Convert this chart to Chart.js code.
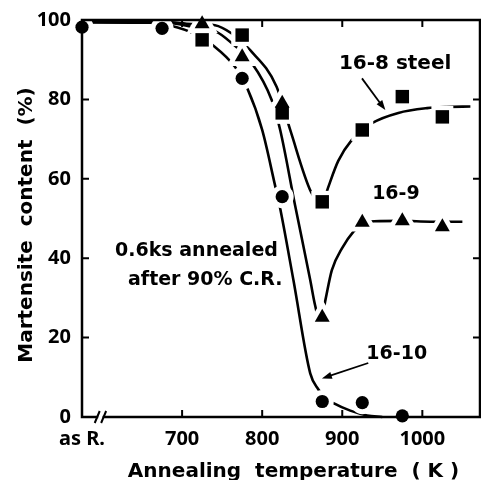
<!DOCTYPE html>
<html>
<head>
<meta charset="utf-8">
<script src="https://cdn.jsdelivr.net/npm/chart.js@4.4.0/dist/chart.umd.min.js"></script>
<style>
html,body{margin:0;padding:0;background:#fff;overflow:hidden;}
canvas{display:block;}
</style>
</head>
<body>
<canvas id="c" width="481" height="480" style="width:481px;height:480px;"></canvas>
<script>
const FONT = "'DejaVu Sans', sans-serif";
const NUMFONT = "'Noto Sans', sans-serif";

// axis ticks (575 K position is used for the "as R." state)
const xTickValues = [575, 700, 800, 900, 1000];
const xTickLabels = ['as R.', '700', '800', '900', '1000'];
const yTickValues = [0, 20, 40, 60, 80, 100];

// measured points
const temp1610 = [575, 675, 775, 825, 875, 925, 975];
const val1610  = [98.2, 97.9, 85.3, 55.5, 3.9, 3.6, 0.3];
const temp169  = [725, 775, 825, 875, 925, 975, 1025];
const val169   = [99.0, 90.7, 79.0, 25.1, 49.0, 49.4, 47.9];
const temp168  = [725, 775, 825, 875, 925, 975, 1025];
const val168   = [95.0, 96.2, 76.6, 54.2, 72.3, 80.7, 75.6];

// hand-drawn trend curves
const curve1610T = [575, 660, 685, 718, 738, 766, 781, 800, 816, 822, 839, 860, 870, 880, 889, 910, 931, 950];
const curve1610V = [99.4, 99.3, 98.6, 96.3, 93.7, 88.2, 83.0, 72.3, 58.4, 53.0, 34.5, 11.0, 7.0, 4.6, 3.5, 1.6, 0.4, 0.0];
const curve169T  = [575, 680, 712, 743, 760, 787, 812, 822.5, 841, 860, 866, 873, 879, 887, 900, 914, 925, 940, 975, 1010, 1050];
const curve169V  = [99.5, 99.3, 98.3, 97.0, 94.5, 89.2, 79.8, 72.3, 53.4, 34.5, 28.2, 23.5, 29.5, 37.0, 42.6, 46.7, 48.6, 49.3, 49.4, 49.2, 49.2];
const curve168T  = [575, 680, 712, 741, 762, 785, 818, 835, 861, 875, 882, 895, 912, 925, 937, 970, 1006, 1030, 1060];
const curve168V  = [99.6, 99.5, 99.0, 98.7, 96.6, 92.4, 83.2, 72.3, 56.7, 53.5, 57.6, 64.5, 69.8, 72.0, 74.0, 76.6, 77.8, 78.1, 78.2];

const pts = (xs, ys) => xs.map((v, i) => ({x: v, y: ys[i]}));

function markers(xs, ys, style, r, color, order) {
  return {data: pts(xs, ys), showLine: false, pointStyle: style, pointRadius: r, pointHoverRadius: r,
    pointBackgroundColor: color, pointBorderWidth: 0, pointBorderColor: color, clip: false, order: order};
}
function curve(xs, ys) {
  return {data: pts(xs, ys), showLine: true, pointRadius: 0, pointHoverRadius: 0, borderColor: '#000',
    borderWidth: 2.6, cubicInterpolationMode: 'monotone', fill: false, clip: false, order: 3};
}

const datasets = [
  markers(temp1610, val1610, 'circle', 6.6, '#000', 0),
  markers(temp169, val169, 'triangle', 8.6, '#000', 0),
  markers(temp168, val168, 'rect', 9.5, '#000', 0),
  markers(temp1610, val1610, 'circle', 11.5, '#fff', 1),
  markers(temp169, val169, 'triangle', 18, '#fff', 1),
  markers(temp168, val168, 'rect', 15.5, '#fff', 1),
  curve(curve1610T, curve1610V),
  curve(curve169T, curve169V),
  curve(curve168T, curve168V)
];

const deco = {
  id: 'deco',
  afterDatasetsDraw(chart) {
    const {ctx, chartArea: a, scales: {x, y}} = chart;
    const X = v => x.getPixelForValue(v), Y = v => y.getPixelForValue(v);
    ctx.save();
    ctx.strokeStyle = '#000'; ctx.fillStyle = '#000';
    // frame
    ctx.lineWidth = 2.5;
    ctx.strokeRect(a.left, a.top, a.right - a.left, a.bottom - a.top);
    // inward ticks
    ctx.lineWidth = 2;
    ctx.beginPath();
    xTickValues.slice(1).forEach(v => {
      const p = X(v);
      ctx.moveTo(p, a.bottom); ctx.lineTo(p, a.bottom - 7);
      ctx.moveTo(p, a.top); ctx.lineTo(p, a.top + 7);
    });
    yTickValues.slice(1, -1).forEach(v => {
      const p = Y(v);
      ctx.moveTo(a.left, p); ctx.lineTo(a.left + 7, p);
      ctx.moveTo(a.right, p); ctx.lineTo(a.right - 7, p);
    });
    ctx.stroke();
    // axis break
    const b1 = X(594), b2 = X(602);
    ctx.fillStyle = '#fff';
    ctx.fillRect(b1 + 1, a.bottom - 3, b2 - b1 - 2, 6);
    ctx.fillStyle = '#000';
    ctx.lineWidth = 2;
    ctx.beginPath();
    [b1, b2].forEach(p => { ctx.moveTo(p - 2.5, a.bottom + 6); ctx.lineTo(p + 2.5, a.bottom - 6); });
    ctx.stroke();
    // arrows
    function arrow(x1, y1, x2, y2) {
      const p1 = [X(x1), Y(y1)], p2 = [X(x2), Y(y2)];
      const ang = Math.atan2(p2[1] - p1[1], p2[0] - p1[0]);
      const L = 10, W = 3.5;
      ctx.lineWidth = 1.8;
      ctx.beginPath();
      ctx.moveTo(p1[0], p1[1]);
      ctx.lineTo(p2[0] - Math.cos(ang) * L * 0.8, p2[1] - Math.sin(ang) * L * 0.8);
      ctx.stroke();
      ctx.beginPath();
      ctx.moveTo(p2[0], p2[1]);
      ctx.lineTo(p2[0] - Math.cos(ang) * L - Math.sin(ang) * W, p2[1] - Math.sin(ang) * L + Math.cos(ang) * W);
      ctx.lineTo(p2[0] - Math.cos(ang) * L + Math.sin(ang) * W, p2[1] - Math.sin(ang) * L - Math.cos(ang) * W);
      ctx.closePath();
      ctx.fill();
    }
    arrow(924.6, 85.3, 953.8, 77.3);
    arrow(932.5, 13.6, 874.6, 9.7);
    // annotations
    ctx.textBaseline = 'alphabetic';
    ctx.textAlign = 'center';
    ctx.font = 'bold 20px ' + FONT;
    ctx.fillText('16-8 steel', X(966), Y(87.6));
    ctx.font = 'bold 19px ' + FONT;
    ctx.fillText('16-9', X(967), Y(54.8));
    ctx.fillText('16-10', X(968), Y(14.5));
    ctx.textAlign = 'left';
    ctx.fillText('0.6ks annealed', X(616.3), Y(40.6));
    ctx.fillText('after 90% C.R.', X(632.5), Y(33.3));
    // axis titles
    ctx.font = 'bold 20px ' + FONT;
    ctx.textAlign = 'center';
    ctx.fillText('Annealing  temperature  ( K )', 293.5, 477);
    ctx.translate(32, 225);
    ctx.rotate(-Math.PI / 2);
    ctx.fillText('Martensite  content  (%)', 0, 0);
    ctx.restore();
  }
};

new Chart(document.getElementById('c'), {
  type: 'scatter',
  data: {datasets},
  options: {
    responsive: false,
    maintainAspectRatio: false,
    animation: false,
    devicePixelRatio: 1,
    layout: {autoPadding: false, padding: {top: 20, right: 1, left: 0, bottom: 0}},
    plugins: {legend: {display: false}, tooltip: {enabled: false}},
    events: [],
    scales: {
      x: {
        type: 'linear', min: 575, max: 1072,
        afterBuildTicks: s => { s.ticks = xTickValues.map(v => ({value: v})); },
        afterFit: s => { s.height = 63; s.paddingLeft = 0; s.paddingRight = 0; },
        grid: {display: false, drawTicks: false},
        border: {display: false},
        ticks: {autoSkip: false, maxRotation: 0, minRotation: 0, padding: 10, color: '#000',
          font: {family: NUMFONT, size: 20, weight: 'bold'},
          callback: (v, i) => xTickLabels[i]}
      },
      y: {
        type: 'linear', min: 0, max: 100,
        afterBuildTicks: s => { s.ticks = yTickValues.map(v => ({value: v})); },
        afterFit: s => { s.width = 82; s.paddingTop = 0; s.paddingBottom = 0; },
        grid: {display: false, drawTicks: false},
        border: {display: false},
        ticks: {padding: 11, color: '#000', font: {family: NUMFONT, size: 20, weight: 'bold'},
          callback: (v, i) => String(yTickValues[i])}
      }
    }
  },
  plugins: [deco]
});
</script>
</body>
</html>
